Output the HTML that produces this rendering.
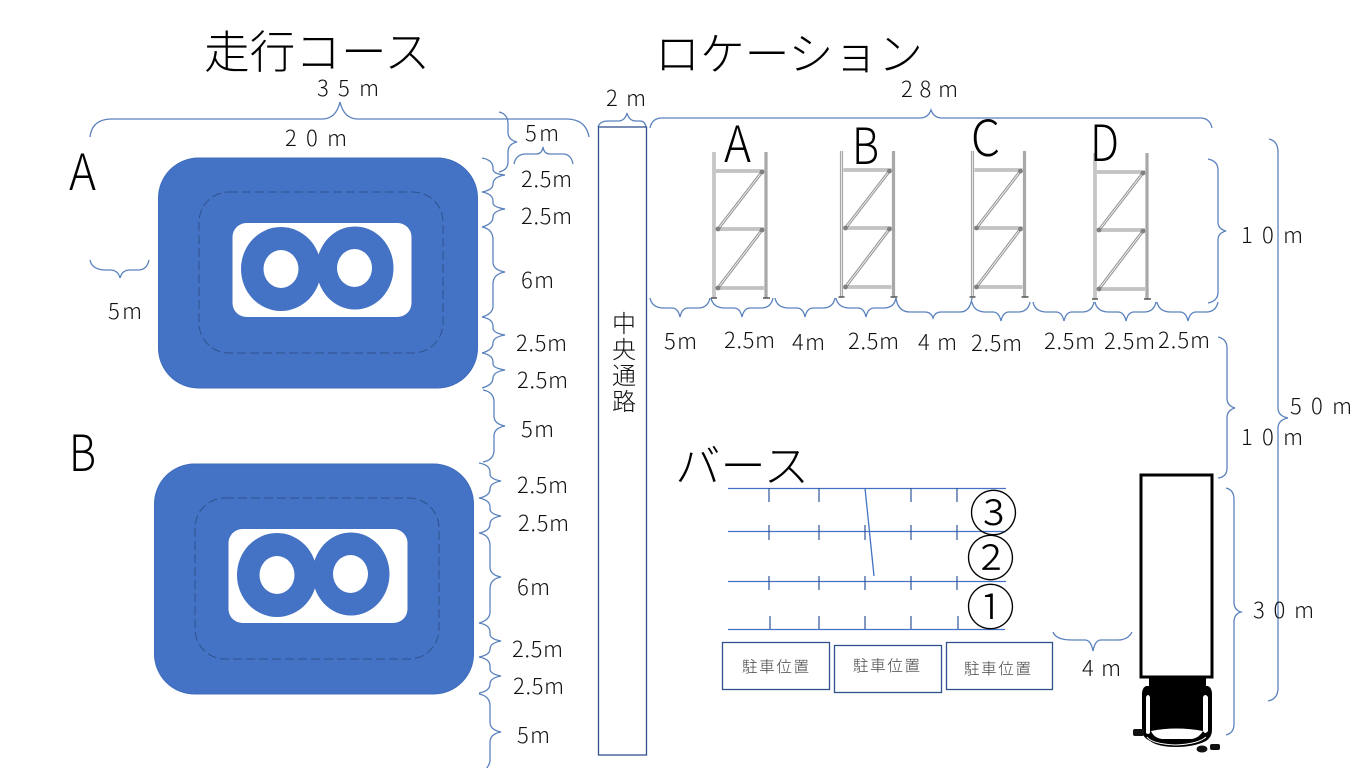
<!DOCTYPE html>
<html lang="ja"><head><meta charset="utf-8"><title>走行コース ロケーション</title>
<style>
html,body{margin:0;padding:0;background:#fff;width:1366px;height:768px;overflow:hidden}
svg{display:block}
text{font-family:"Liberation Sans","Noto Sans CJK JP",sans-serif;fill:#111;font-size:22px}
.j{font-family:"Noto Sans CJK JP",sans-serif;font-weight:300}
.t{font-size:45px;fill:#000}
.L{font-size:50px;fill:#000}
.p{font-size:15.5px;fill:#444}
.b{fill:none;stroke:#5b82bd;stroke-width:1.3}
.post{fill:none;stroke:#a8a8a8;stroke-width:3.2}
.in{fill:none;stroke:#e4e4e4;stroke-width:1}
.beam{fill:none;stroke:#929292;stroke-width:3}
.bi{fill:none;stroke:#f4f4f4;stroke-width:1}
.line{stroke:#4472c4;stroke-width:1.3;fill:none}
.tick{stroke:#2f5597;stroke-width:1.2}
.box{fill:#fff;stroke:#2f528f;stroke-width:1.3}
</style></head><body>
<svg width="1366" height="768" viewBox="0 0 1366 768" xmlns="http://www.w3.org/2000/svg">
<defs>
<g id="course">
<rect x="158.500" y="158" width="319" height="230" rx="40" fill="#4472c4" stroke="#3f6cbc"/>
<rect x="199" y="192" width="244" height="161" rx="30" fill="none" stroke="#2f528f" stroke-width="1" stroke-dasharray="9 4"/>
<rect x="232.500" y="223" width="179" height="94" rx="14" fill="#fff"/>
<ellipse cx="281" cy="269" rx="40" ry="42" fill="#4472c4"/>
<ellipse cx="355" cy="268" rx="38.500" ry="41.500" fill="#4472c4"/>
<ellipse cx="281" cy="269" rx="17.500" ry="19" fill="#fff"/>
<ellipse cx="354.500" cy="268" rx="17.500" ry="19" fill="#fff"/>
</g>
<g id="rack">
<path class="post" d="M1 0V146M53 0V146"/>
<path class="in" d="M1 0V146"/>
<path d="M-2 146h6M50 146h7" stroke="#555" stroke-width="1.4" fill="none"/>
<path class="beam" d="M3 19H51M3 77H51M3 136H51"/>
<path class="bi" d="M3 19H51M3 77H51M3 136H51"/>
<path class="beam" d="M49 20L5 77M49 78L5 136"/>
<path class="bi" d="M49 20L5 77M49 78L5 136"/>
<g fill="#808080"><circle cx="49" cy="20" r="2.400"/><circle cx="49" cy="78" r="2.400"/><circle cx="5" cy="77" r="2.400"/><circle cx="5" cy="136" r="2.400"/></g>
</g>
</defs>

<!-- titles -->
<text class="t j" x="204" y="68" textLength="226" lengthAdjust="spacingAndGlyphs">走行コース</text>
<text class="t j" x="655" y="70" textLength="268" lengthAdjust="spacingAndGlyphs">ロケーション</text>
<text class="t j" x="675" y="482" textLength="134" lengthAdjust="spacingAndGlyphs">バース</text>

<!-- courses -->
<use href="#course"/>
<use href="#course" x="-4" y="306"/>
<text class="L j" x="69" y="190" textLength="27" lengthAdjust="spacingAndGlyphs">A</text>
<text class="L j" x="69" y="471" textLength="27" lengthAdjust="spacingAndGlyphs">B</text>

<!-- horizontal braces -->
<path class="b" d="M90 137Q92 119 112 119H322Q336 119 340 102Q344 119 358 119H566Q586 119 589 137"/>
<path class="b" d="M514 164Q516 154 526 154H536Q542 154 543 147Q544 154 550 154H563Q571 154 573 164"/>
<path class="b" d="M90 260Q92 270 106 270H110Q118 270 120 278Q122 270 130 270H138Q147 270 149 260"/>
<path class="b" d="M598 127Q600 121 608 121H618Q625 121 627 113Q629 121 636 121H640Q645 121 646 127"/>
<path class="b" d="M650 128Q652 118 662 118H920Q928 118 931 110Q934 118 942 118H1200Q1210 118 1212 128"/>
<path class="b" d="M650 298Q652 308 664 308H672Q678 308 680 317Q682 308 688 308H698Q708 308 710 298"/>
<path class="b" d="M711 298Q713 308 725 308H734Q740 308 742 317Q744 308 750 308H761Q771 308 773 298"/>
<path class="b" d="M775 298Q777 308 789 308H797Q803 308 805 317Q807 308 813 308H823Q833 308 835 298"/>
<path class="b" d="M836 298Q838 308 850 308H858Q864 308 866 317Q868 308 874 308H884Q894 308 896 298"/>
<path class="b" d="M896 298Q898 312 910 312H925Q931 312 933 318Q935 312 941 312H960Q970 312 972 298"/>
<path class="b" d="M972 302Q974 312 986 312H993Q999 312 1001 321Q1003 312 1009 312H1018Q1028 312 1030 302"/>
<path class="b" d="M1033 302Q1035 312 1047 312H1056Q1062 312 1064 321Q1066 312 1072 312H1082Q1092 312 1094 302"/>
<path class="b" d="M1095 302Q1097 312 1109 312H1118Q1124 312 1126 321Q1128 312 1134 312H1144Q1154 312 1156 302"/>
<path class="b" d="M1157 302Q1159 312 1171 312H1180Q1186 312 1188 321Q1190 312 1196 312H1206Q1216 312 1218 302"/>
<path class="b" d="M1053 632Q1056 640 1072 640H1085Q1091 640 1093 651Q1095 640 1101 640H1118Q1128 640 1132 632"/>

<!-- vertical braces, course side -->
<path class="b" d="M499 112Q508 114 508 124V132Q508 140 517 142Q508 144 508 152V162Q508 170 499 172"/>
<path class="b" d="M482 158Q493 160 493 168V169Q493 174 505 175Q493 177 493 184Q493 190 482 192"/>
<path class="b" d="M482 192Q493 194 493 201V203Q493 207 505 209Q493 211 493 217Q493 224 482 227"/>
<path class="b" d="M482 227Q493 229 493 240V262Q493 270 505 272Q493 274 493 284V306Q493 314 482 317"/>
<path class="b" d="M482 317Q493 319 493 326V328Q493 333 505 335Q493 337 493 343Q493 350 482 353"/>
<path class="b" d="M482 353Q493 355 493 362V364Q493 368 505 370Q493 372 493 378Q493 385 482 388"/>
<path class="b" d="M483 390Q494 392 494 402V416Q494 424 505 426Q494 428 494 436V450Q494 460 483 462"/>
<path class="b" d="M479 463Q490 465 490 472V474Q490 479 501 481Q490 483 490 489Q490 496 479 498"/>
<path class="b" d="M479 498Q490 500 490 507V509Q490 514 501 516Q490 518 490 524Q490 531 479 533"/>
<path class="b" d="M479 533Q490 535 490 546V567Q490 575 501 577Q490 579 490 589V612Q490 620 479 623"/>
<path class="b" d="M479 623Q490 625 490 632V634Q490 639 501 641Q490 643 490 649Q490 655 479 657"/>
<path class="b" d="M479 657Q490 659 490 666V669Q490 674 501 676Q490 678 490 684Q490 691 479 693"/>
<path class="b" d="M479 694Q490 696 490 706V722Q490 730 501 732Q490 734 490 742V760Q490 766 483 772"/>

<!-- vertical braces, right side -->
<path class="b" d="M1208 159Q1218 161 1218 170V222Q1218 229 1226 231Q1218 233 1218 240V292Q1218 301 1208 303"/>
<path class="b" d="M1218 337Q1227 339 1227 348V398Q1227 406 1235 408Q1227 410 1227 418V468Q1227 477 1218 478"/>
<path class="b" d="M1226 488Q1234 490 1234 499V602Q1234 610 1241 612Q1234 614 1234 622V724Q1234 733 1226 735"/>
<path class="b" d="M1269 139Q1278 141 1278 152V408Q1278 416 1288 418Q1278 420 1278 428V688Q1278 699 1268 701"/>

<!-- racks -->
<use href="#rack" x="713" y="152"/>
<use href="#rack" x="840.500" y="151"/>
<use href="#rack" x="971.500" y="151"/>
<use href="#rack" x="1094" y="153"/>
<text class="L j" x="724" y="162" textLength="27" lengthAdjust="spacingAndGlyphs">A</text>
<text class="L j" x="852" y="164" textLength="27" lengthAdjust="spacingAndGlyphs">B</text>
<text class="L j" x="971" y="156" textLength="29" lengthAdjust="spacingAndGlyphs">C</text>
<text class="L j" x="1090" y="161" textLength="29" lengthAdjust="spacingAndGlyphs">D</text>

<!-- corridor -->
<rect x="598.500" y="127" width="48" height="628" class="box"/>
<text class="j" x="624" y="332" text-anchor="middle" style="font-size:24px">中</text>
<text class="j" x="624" y="358" text-anchor="middle" style="font-size:24px">央</text>
<text class="j" x="624" y="384" text-anchor="middle" style="font-size:24px">通</text>
<text class="j" x="624" y="410" text-anchor="middle" style="font-size:24px">路</text>

<!-- berth -->
<path class="line" d="M728 488.500H1006M728 531.500H1006M728 581.500H1006M728 629.500H1005"/>
<path class="tick" d="M769 488V502M819 488V502M911 488V502M957 488V502M769 525V540M819 525V540M865 525V540M911 525V540M957 525V540M769 576V590M819 576V590M865 576V590M911 576V590M957 576V590M770 616V629M819 616V629M865 616V629M911 616V629M958 616V629"/>
<path class="line" d="M865 488L874 576"/>
<text class="j" x="969" y="531" style="font-size:49px;fill:#000">③</text>
<text class="j" x="966" y="576" style="font-size:49px;fill:#000">②</text>
<text class="j" x="966" y="625" style="font-size:49px;fill:#000">①</text>

<rect x="722.500" y="642.500" width="107" height="47" class="box"/>
<rect x="834.500" y="645.500" width="107" height="47" class="box"/>
<rect x="946.500" y="642.500" width="106" height="47" class="box"/>
<text class="p j" x="742" y="672" textLength="67">駐車位置</text>
<text class="p j" x="853" y="671" textLength="67">駐車位置</text>
<text class="p j" x="964" y="674" textLength="67">駐車位置</text>

<!-- truck -->
<rect x="1141" y="475" width="71" height="202" fill="#fff" stroke="#000" stroke-width="3"/>
<path d="M1149 678H1206V686H1208Q1212 688 1212 694V730Q1212 737 1206 741Q1194 747 1176 747Q1158 747 1150 741Q1142 737 1142 730V694Q1142 688 1146 686H1149Z" fill="#000"/>
<path d="M1146 697Q1148 693 1150 697V733Q1148 735 1146 733ZM1203 697Q1205 693 1208 697V731Q1205 735 1203 731Z" fill="#fff"/>
<path d="M1151 731Q1176 726 1203 731Q1199 738 1192 739H1162Q1154 738 1151 731Z" fill="#fff"/>
<path d="M1147 737Q1152 744 1176 745Q1198 744 1206 737" fill="none" stroke="#fff" stroke-width="1"/>
<rect x="1133" y="729" width="11" height="7" rx="2" fill="#111"/>
<ellipse cx="1202" cy="749" rx="5.500" ry="3.500" fill="#111"/>
<rect x="1210" y="744" width="10" height="6" rx="2" fill="#111"/>

<!-- dimension labels -->
<g class="j">
<text class="j" x="317" y="96" textLength="62" lengthAdjust="spacing">3 5 m</text>
<text class="j" x="285" y="146" textLength="62" lengthAdjust="spacing">2 0 m</text>
<text class="j" x="606" y="106" textLength="40" lengthAdjust="spacing">2 m</text>
<text class="j" x="901" y="97" textLength="57" lengthAdjust="spacing">2 8 m</text>
<text class="j" x="525" y="141" textLength="34" lengthAdjust="spacing">5m</text>
<text class="j" x="108" y="319" textLength="34" lengthAdjust="spacing">5m</text>

<text class="j" x="521" y="187" textLength="51">2.5m</text>
<text class="j" x="521" y="224" textLength="51">2.5m</text>
<text class="j" x="521" y="288" textLength="33">6m</text>
<text class="j" x="516" y="351" textLength="51">2.5m</text>
<text class="j" x="517" y="388" textLength="51">2.5m</text>
<text class="j" x="521" y="437" textLength="33">5m</text>
<text class="j" x="517" y="493" textLength="51">2.5m</text>
<text class="j" x="518" y="531" textLength="51">2.5m</text>
<text class="j" x="517" y="595" textLength="33">6m</text>
<text class="j" x="512" y="657" textLength="51">2.5m</text>
<text class="j" x="513" y="694" textLength="51">2.5m</text>
<text class="j" x="517" y="743" textLength="33">5m</text>

<text class="j" x="664" y="349" textLength="33">5m</text>
<text class="j" x="724" y="348" textLength="51">2.5m</text>
<text class="j" x="792" y="350" textLength="33">4m</text>
<text class="j" x="848" y="349" textLength="51">2.5m</text>
<text class="j" x="918" y="350" textLength="39">4 m</text>
<text class="j" x="971" y="351" textLength="51">2.5m</text>
<text class="j" x="1044" y="349" textLength="51">2.5m</text>
<text class="j" x="1104" y="349" textLength="51">2.5m</text>
<text class="j" x="1158" y="348" textLength="52">2.5m</text>

<text class="j" x="1241" y="243" textLength="62" lengthAdjust="spacing">1 0 m</text>
<text class="j" x="1241" y="445" textLength="62" lengthAdjust="spacing">1 0 m</text>
<text class="j" x="1290" y="414" textLength="62" lengthAdjust="spacing">5 0 m</text>
<text class="j" x="1253" y="618" textLength="61" lengthAdjust="spacing">3 0 m</text>
<text class="j" x="1082" y="676" textLength="39" lengthAdjust="spacing">4 m</text>
</g>
</svg>
</body></html>
